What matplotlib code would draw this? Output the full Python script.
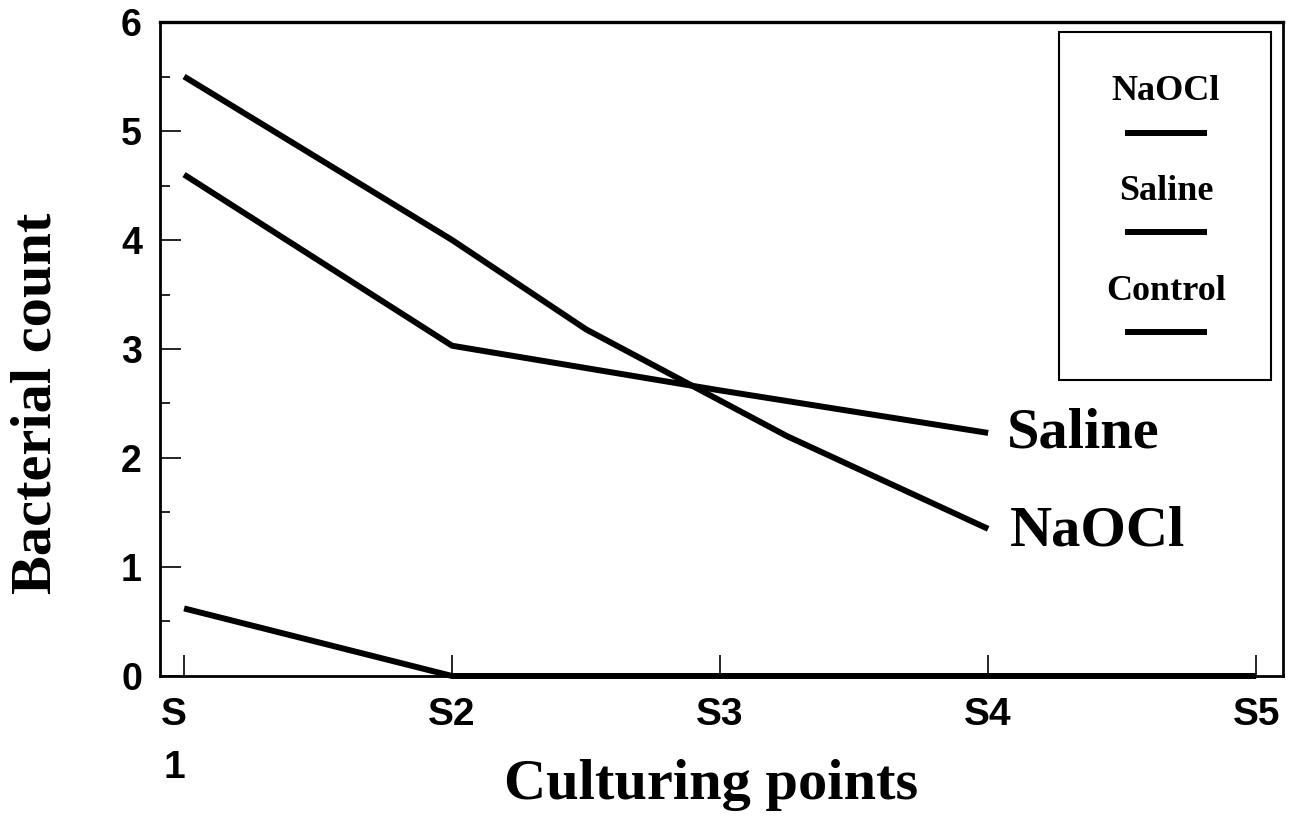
import numpy as np
import matplotlib
matplotlib.use('Agg')
import matplotlib.pyplot as plt
from matplotlib.patches import Rectangle
from matplotlib.transforms import ScaledTranslation

# culturing points S1..S5 on a numeric axis
POINTS = [1, 2, 3, 4, 5]
POINT_LABELS = ['S\n1', 'S2', 'S3', 'S4', 'S5']

naocl_x = [1, 2, 2.5, 3.25, 4]
naocl_y = [5.5, 4.0, 3.18, 2.2, 1.35]
saline_x = [1, 2, 3, 4]
saline_y = [4.6, 3.03, 2.62, 2.23]
control_x = [1, 2, 3, 4, 5]
control_y = [0.62, 0, 0, 0, 0]

SERIES = ['NaOCl', 'Saline', 'Control']

SERIF = ['Liberation Serif', 'DejaVu Serif']
SANS = ['Liberation Sans', 'DejaVu Sans']
LW = 4.3

fig = plt.figure(figsize=(12.92, 8.18), dpi=100)
ax = fig.add_axes([0.1238, 0.1736, 0.8692, 0.7995])

for xs, ys in [(naocl_x, naocl_y), (saline_x, saline_y), (control_x, control_y)]:
    ax.plot(xs, ys, color='black', lw=LW, solid_capstyle='butt',
            solid_joinstyle='round', clip_on=False, zorder=3)

ax.set_xlim(0.91, 5.1)
ax.set_ylim(0, 6)

for s in ax.spines.values():
    s.set_linewidth(2)
ax.spines['top'].set_linewidth(2.4)

ax.set_xticks(POINTS)
ax.set_xticklabels(POINT_LABELS, fontfamily=SANS, fontweight='bold',
                   fontsize=28, linespacing=1.62)
ax.set_yticks(range(0, 7))
ax.set_yticks(np.arange(0.5, 6, 1), minor=True)
ax.set_yticklabels([str(v) for v in range(0, 7)], fontfamily=SANS,
                   fontweight='bold', fontsize=27)
ax.tick_params(axis='x', direction='in', length=15, width=1.2, pad=15)
ax.tick_params(axis='y', which='major', direction='in', length=15, width=1.2, pad=13)
ax.tick_params(axis='y', which='minor', direction='in', length=7, width=1.2)

# first label sits a bit left of its tick in the original
first = ax.get_xticklabels()[0]
first.set_transform(first.get_transform() + ScaledTranslation(-0.1, 0, fig.dpi_scale_trans))

ax.set_xlabel('Culturing points', fontfamily=SERIF, fontweight='bold', fontsize=42)
ax.xaxis.set_label_coords(0.491, -0.127)
ax.set_ylabel('Bacterial count', fontfamily=SERIF, fontweight='bold', fontsize=42)
ax.yaxis.set_label_coords(-0.087, 0.417)

# end-of-line labels
ax.text(4.07, 2.10, 'Saline', fontfamily=SERIF, fontweight='bold', fontsize=42,
        va='baseline', ha='left')
ax.text(4.08, 1.20, 'NaOCl', fontfamily=SERIF, fontweight='bold', fontsize=42,
        va='baseline', ha='left')

# key box: name above a short line
ax.add_patch(Rectangle((0.801, 0.453), 0.188, 0.532, transform=ax.transAxes,
                       fill=False, lw=1.5, zorder=4))
text_y = [0.881, 0.728, 0.575]
line_y = [0.830, 0.679, 0.526]
for name, ty, ly in zip(SERIES, text_y, line_y):
    ax.text(0.8957, ty, name, transform=ax.transAxes, fontfamily=SERIF,
            fontweight='bold', fontsize=26, ha='center', va='baseline')
    ax.plot([0.859, 0.932], [ly, ly], transform=ax.transAxes, color='black',
            lw=LW, solid_capstyle='butt')

fig.savefig('out.png', dpi=100)
